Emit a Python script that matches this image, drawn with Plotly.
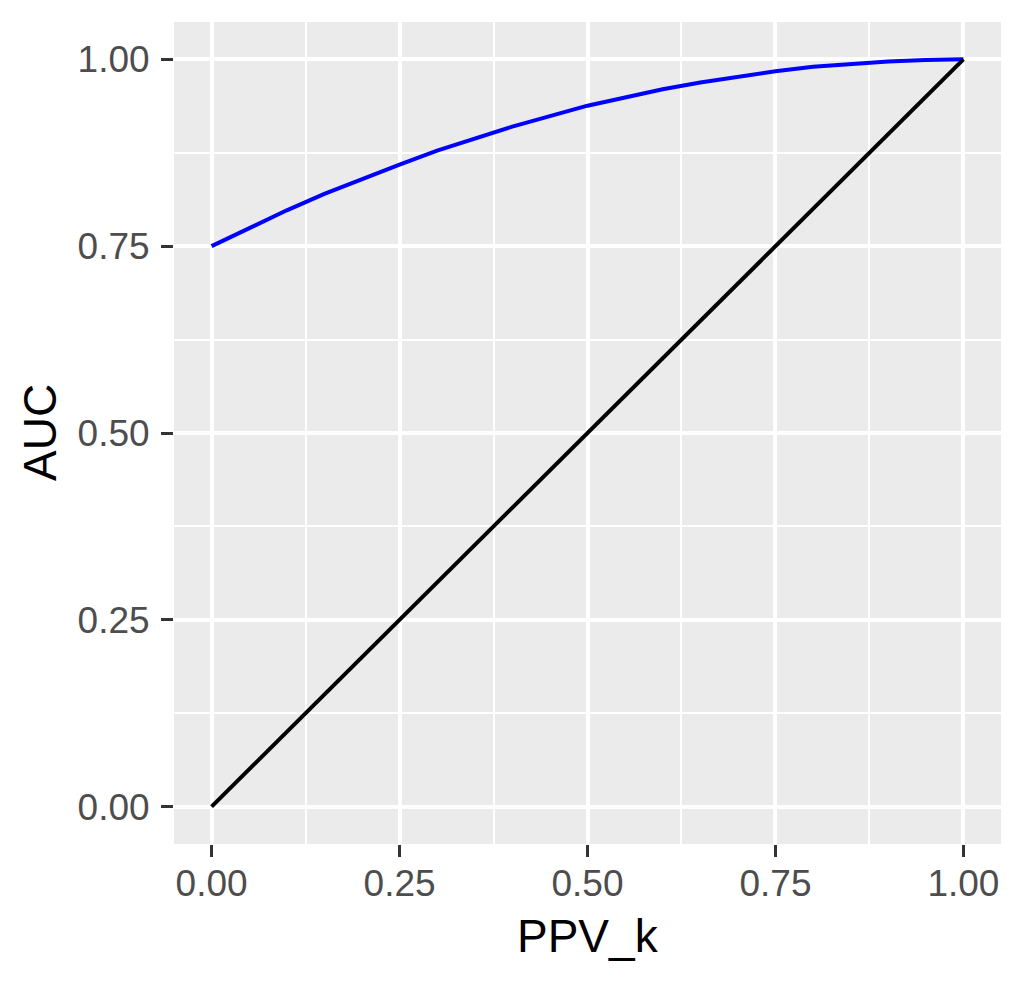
import plotly.graph_objects as go

# data
ppv_k = [0.00, 0.05, 0.10, 0.15, 0.20, 0.25, 0.30, 0.35, 0.40, 0.45, 0.50,
         0.55, 0.60, 0.65, 0.70, 0.75, 0.80, 0.85, 0.90, 0.95, 1.00]
auc = [0.750, 0.774, 0.798, 0.820, 0.840, 0.859, 0.878, 0.894, 0.910, 0.924, 0.938,
       0.949, 0.960, 0.969, 0.977, 0.984, 0.990, 0.994, 0.997, 0.999, 1.000]

diag_x = [0.0, 1.0]
diag_y = [0.0, 1.0]

tick_vals = [0.0, 0.25, 0.5, 0.75, 1.0]
tick_text = ["0.00", "0.25", "0.50", "0.75", "1.00"]

FONT = "Liberation Sans, Arial, sans-serif"

fig = go.Figure()

# courbe AUC
fig.add_trace(go.Scatter(x=ppv_k, y=auc, mode="lines",
                         line=dict(color="#0000FF", width=4), showlegend=False))
# diagonale
fig.add_trace(go.Scatter(x=diag_x, y=diag_y, mode="lines",
                         line=dict(color="#000000", width=4), showlegend=False))

axis_style = dict(
    range=[-0.05, 1.05],
    tickvals=tick_vals,
    ticktext=tick_text,
    showgrid=True,
    gridcolor="white",
    gridwidth=3.5,
    zeroline=False,
    showline=False,
    automargin=False,
    ticks="outside",
    ticklen=12,
    tickwidth=3,
    tickcolor="#333333",
    tickfont=dict(family=FONT, size=37, color="#4D4D4D"),
    minor=dict(dtick=0.125, tick0=0, showgrid=True, gridcolor="white", gridwidth=2),
)

fig.update_xaxes(**axis_style, ticklabelstandoff=-5)
fig.update_yaxes(**axis_style, ticklabelstandoff=4)

# titres d'axes
fig.add_annotation(text="PPV_k", xref="paper", yref="paper", x=0.5, y=-0.112,
                   xanchor="center", yanchor="middle", showarrow=False,
                   font=dict(family=FONT, size=46, color="black"))
fig.add_annotation(text="AUC", xref="paper", yref="paper", x=-0.162, y=0.5,
                   xanchor="center", yanchor="middle", showarrow=False, textangle=-90,
                   font=dict(family=FONT, size=46, color="black"))

# la page ajoute 8 px de marge autour de la figure
fig.update_layout(
    width=1016, height=976,
    margin=dict(l=166, r=23, t=14, b=140),
    plot_bgcolor="#EBEBEB",
    paper_bgcolor="white",
    font=dict(family=FONT),
)

fig.write_html("out.html")
